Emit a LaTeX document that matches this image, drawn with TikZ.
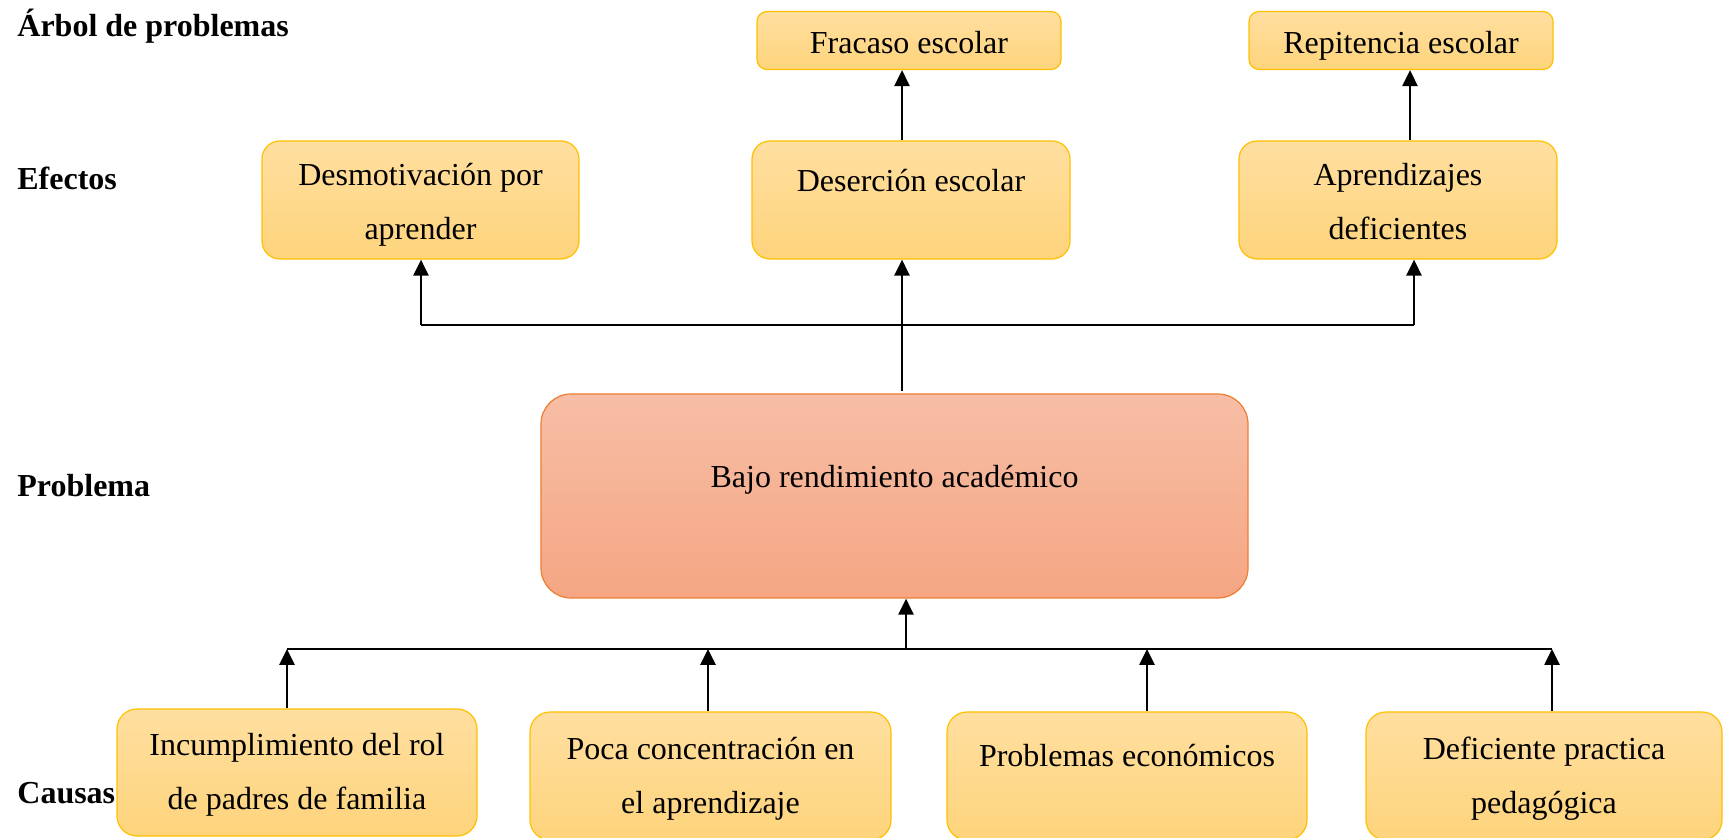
\documentclass[tikz,border=0pt]{standalone}
\usepackage{fontspec}
\setmainfont{Liberation Serif}
\usepackage{tikz}
\usetikzlibrary{arrows.meta}
\definecolor{cajaarriba}{RGB}{255,223,160}
\definecolor{cajaabajo}{RGB}{254,212,124}
\definecolor{cajaborde}{RGB}{255,192,0}
\definecolor{probarriba}{RGB}{247,190,166}
\definecolor{probabajo}{RGB}{245,166,131}
\definecolor{probborde}{RGB}{237,125,49}
\tikzstyle{arrow} = [line width=1.35pt,-{Triangle[width=7.5pt,length=8pt]}]
\tikzstyle{rama} = [line width=0.85pt]
\tikzstyle{caja} = [draw=cajaborde,line width=0.6pt,top color=cajaarriba,bottom color=cajaabajo,
    align=center,inner sep=0pt,font=\fontsize{16}{27}\selectfont]
\tikzstyle{cajaprob} = [caja,draw=probborde,top color=probarriba,bottom color=probabajo]
\tikzstyle{etiqueta} = [anchor=base west,inner sep=0pt,font=\bfseries\fontsize{16}{19}\selectfont]

\begin{document}
\begin{tikzpicture}[x=0.5pt,y=-0.5pt]
    \useasboundingbox (0,0) rectangle (1724,838);
    \node[etiqueta] (arbol) at (17,37) {Árbol de problemas};
    \node[etiqueta] (efectos) at (17,190) {Efectos};
    \node[etiqueta] (problema) at (17,497) {Problema};
    \node[etiqueta] (causas) at (17,804) {Causas};

    \node[caja,rounded corners=5pt,minimum width=152pt,minimum height=29pt,
        text height=13pt,text depth=0pt] (fracaso) at (909,40.5) {Fracaso escolar};
    \node[caja,rounded corners=5pt,minimum width=152pt,minimum height=29pt,
        text height=13pt,text depth=0pt] (repitencia) at (1401,40.5) {Repitencia escolar};
    \node[caja,rounded corners=9pt,minimum width=158.5pt,minimum height=59pt,
        text height=40pt,text depth=0pt] (desmotivacion) at (420.5,200) {Desmotivación por\\aprender};
    \node[caja,rounded corners=9pt,minimum width=159pt,minimum height=59pt,
        text height=11pt,text depth=19pt] (desercion) at (911,200) {Deserción escolar};
    \node[caja,rounded corners=9pt,minimum width=159pt,minimum height=59pt,
        text height=40pt,text depth=0pt] (aprendizajes) at (1398,200) {Aprendizajes\\deficientes};

    \node[cajaprob,rounded corners=15pt,minimum width=353.5pt,minimum height=102pt,
        text height=11pt,text depth=19pt] (bajo) at (894.5,496) {Bajo rendimiento académico};

    \node[caja,rounded corners=10pt,minimum width=180pt,minimum height=63.5pt,
        text height=36.5pt,text depth=0pt] (incumplimiento) at (297,772.5) {Incumplimiento del rol\\de padres de familia};
    \node[caja,rounded corners=10pt,minimum width=180.5pt,minimum height=64pt,
        text height=37pt,text depth=0pt] (poca) at (710.5,776) {Poca concentración en\\el aprendizaje};
    \node[caja,rounded corners=10pt,minimum width=180pt,minimum height=64pt,
        text height=11pt,text depth=20pt] (economicos) at (1127,776) {Problemas económicos};
    \node[caja,rounded corners=10pt,minimum width=178pt,minimum height=64pt,
        text height=37pt,text depth=0pt] (deficiente) at (1544,776) {Deficiente practica\\pedagógica};

    \coordinate (e1) at (421,325);
    \coordinate (e2) at (902,391);
    \coordinate (e3) at (1414,325);
    \coordinate (e4) at (1410,100);
    \draw[rama] (e1) -- (e3);
    \draw[arrow] (e1) -- (e1 |- desmotivacion.south);
    \draw[arrow] (e3) -- (e3 |- aprendizajes.south);
    \draw[arrow] (e2) -- (e2 |- desercion.south);
    \draw[arrow] (e2 |- desercion.north) -- (e2 |- fracaso.south);
    \draw[arrow] (e4 |- aprendizajes.north) -- (e4 |- repitencia.south);

    \coordinate (c0) at (906,649);
    \coordinate (c1) at (287,649);
    \coordinate (c2) at (708,649);
    \coordinate (c3) at (1147,649);
    \coordinate (c4) at (1552,649);
    \draw[rama] (c1) -- (c4);
    \draw[arrow] (c0) -- (c0 |- bajo.south);
    \foreach \c/\n in {c1/incumplimiento,c2/poca,c3/economicos,c4/deficiente}
        \draw[arrow] (\c |- \n.north) -- (\c);
\end{tikzpicture}
\end{document}
